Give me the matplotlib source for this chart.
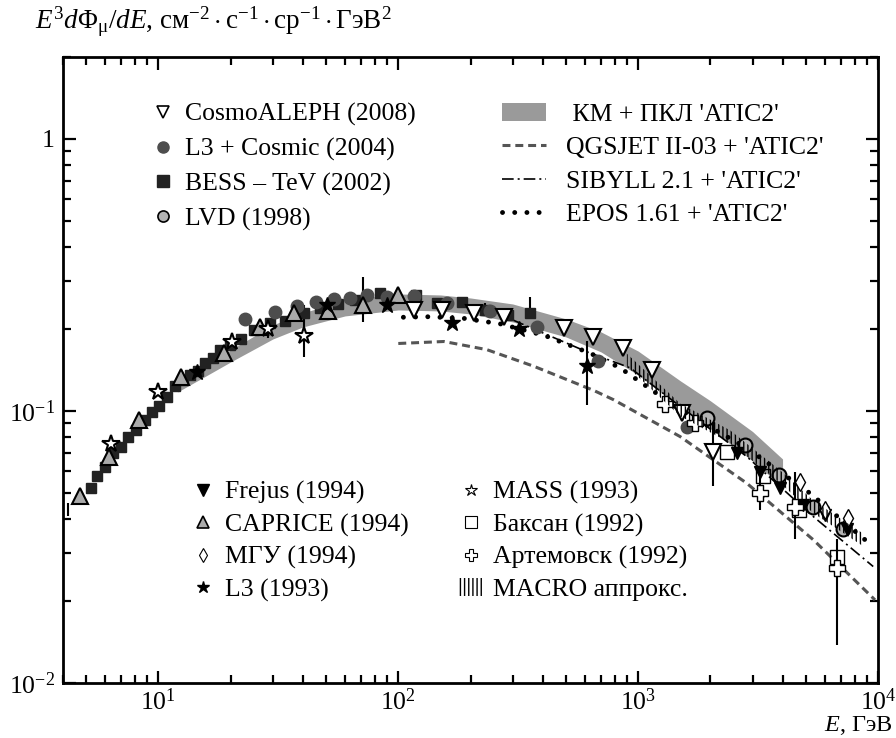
import numpy as np
import matplotlib
matplotlib.use('Agg')
import matplotlib.pyplot as plt
from matplotlib.lines import Line2D
from matplotlib.patches import Patch
from matplotlib.ticker import FixedLocator, FixedFormatter, LogLocator, NullFormatter

plt.rcParams['font.family'] = ['Liberation Serif', 'DejaVu Serif']
plt.rcParams['mathtext.fontset'] = 'custom'
plt.rcParams['mathtext.rm'] = 'Liberation Serif'
plt.rcParams['mathtext.it'] = 'Liberation Serif:italic'
plt.rcParams['mathtext.bf'] = 'Liberation Serif:bold'
plt.rcParams['hatch.linewidth'] = 1.0

# ---------------- data ----------------
bess_E = [5.21, 5.55, 6.01, 6.47, 6.95, 7.48, 8.09, 8.77, 9.41, 10.1, 10.9, 11.7, 12.7, 13.6,
          14.6, 15.7, 16.9, 18.1, 19.95, 22.1, 25.1, 29.1, 33.8, 40.3, 47, 56, 66, 84, 118,
          145, 184, 230, 288, 355]
bess_F = [0.0522, 0.0577, 0.0621, 0.0699, 0.0739, 0.0805, 0.0851, 0.0927, 0.0994, 0.104, 0.113,
          0.124, 0.130, 0.136, 0.140, 0.150, 0.157, 0.168, 0.175, 0.184, 0.199, 0.211, 0.215,
          0.229, 0.238, 0.248, 0.256, 0.271, 0.267, 0.250, 0.252, 0.235, 0.225, 0.229]

l3c_E = [23.0, 30.7, 37.9, 45.5, 53.7, 63.1, 74.1, 89.8, 116, 160, 242, 378, 678, 1596]
l3c_F = [0.217, 0.232, 0.243, 0.252, 0.257, 0.261, 0.267, 0.263, 0.265, 0.250, 0.234, 0.203,
         0.152, 0.0875]

lvd_E = [1933, 2790, 3880, 5375, 7170]
lvd_F = [0.094, 0.075, 0.0582, 0.0445, 0.0367]

aleph_E = [116, 152, 206, 275, 489, 648, 868, 1140, 1522, 2060]
aleph_F = [0.235, 0.235, 0.230, 0.222, 0.201, 0.187, 0.170, 0.142, 0.098, 0.0709]

caprice_E = [4.73, 6.21, 8.28, 12.4, 18.7, 26.4, 36.6, 50.8, 71.6, 100]
caprice_F = [0.0487, 0.0679, 0.0927, 0.133, 0.163, 0.204, 0.229, 0.234, 0.245, 0.267]

mass_E = [6.37, 10.0, 20.3, 28.5, 40.3]
mass_F = [0.0754, 0.117, 0.180, 0.200, 0.188]

l3_E = [14.5, 50.5, 89.8, 167, 320, 611]
l3_F = [0.139, 0.245, 0.245, 0.210, 0.200, 0.146]

frejus_E = [2575, 3220, 3905, 4890, 6010, 7410]
frejus_F = [0.0699, 0.0598, 0.052, 0.0451, 0.0415, 0.0367]

mgu_E = [4730, 6010, 7520]
mgu_F = [0.055, 0.0433, 0.0403]

baksan_E = [2345, 3310, 4700, 6730]
baksan_F = [0.0709, 0.0577, 0.0433, 0.0291]

artem_E = [1296, 1728, 3220, 4505, 6730]
artem_F = [0.106, 0.0901, 0.0501, 0.0443, 0.0264]

# error bars (energy, low, high)
err_E = [4.2, 28.5, 40.3, 71.6, 611, 2060, 3220, 4505, 6730, 355, 230]
err_lo = [0.041, 0.186, 0.158, 0.212, 0.105, 0.053, 0.0433, 0.0337, 0.0138, 0.229, 0.235]
err_hi = [0.046, 0.215, 0.246, 0.311, 0.181, 0.090, 0.0598, 0.0598, 0.0337, 0.262, 0.250]

# MACRO approximation band
macro_E = [897, 1496, 2415, 3905, 5360, 8660]
macro_F = [0.154, 0.101, 0.0805, 0.0574, 0.0445, 0.0336]
macro_hw = 1.055

# KM + PKL 'ATIC2' band
band_E = [12, 15, 20, 30, 40, 60, 100, 150, 200, 300, 500, 700, 1000, 1500, 2000, 3000, 4000]
band_hi = [0.1257, 0.1427, 0.1676, 0.2071, 0.2293, 0.2559, 0.2692, 0.2669, 0.2602, 0.2473,
           0.2179, 0.1952, 0.1660, 0.1290, 0.1090, 0.0840, 0.0666]
band_lo = [0.1174, 0.1311, 0.1514, 0.1839, 0.2036, 0.2235, 0.2351, 0.2331, 0.2273, 0.2124,
           0.1871, 0.1648, 0.1355, 0.1030, 0.0860, 0.0655, 0.0526]

qgs_E = [100, 155, 234, 367, 652, 789, 1496, 2840, 5375, 9716]
qgs_F = [0.177, 0.180, 0.168, 0.146, 0.119, 0.110, 0.0805, 0.0542, 0.0336, 0.0202]

sib_E = [300, 458, 611, 926, 1496, 2840, 5375, 9550]
sib_F = [0.216, 0.184, 0.165, 0.144, 0.104, 0.0679, 0.0409, 0.0268]

epos_E = [105, 132, 187, 266, 410, 631, 841, 1496, 2840, 5210, 9550]
epos_F = [0.221, 0.222, 0.219, 0.209, 0.189, 0.163, 0.144, 0.101, 0.073, 0.0498, 0.0317]

# ---------------- figure ----------------
W, H = 896, 738
fig = plt.figure(figsize=(W / 100, H / 100), dpi=100)
ax = fig.add_axes([63 / W, 1 - 683 / H, (878 - 63) / W, (683 - 57) / H])
ax.set_xscale('log')
ax.set_yscale('log')
ax.set_xlim(4.0, 1e4)
ax.set_ylim(0.01, 2.0)

c_band = '#9a9a9a'
qgs_ls = (0, (2.6, 1.6))
sib_ls = (0, (7, 2.4, 1.2, 2.4))
epos_ls = (0, (0.01, 2.5))

ax.fill_between(band_E, band_lo, band_hi, color=c_band, lw=0, zorder=1)

ax.plot(qgs_E, qgs_F, ls=qgs_ls, color='#555555', lw=2.2, zorder=2)
ax.plot(sib_E, sib_F, ls=sib_ls, color='black', lw=1.2, zorder=2)
ax.plot(epos_E, epos_F, ls=epos_ls, color='black', lw=3.5, dash_capstyle='round', zorder=2)

macro_lo = [f / macro_hw for f in macro_F]
macro_hi = [f * macro_hw for f in macro_F]
ax.fill_between(macro_E, macro_lo, macro_hi, facecolor='none', edgecolor='black',
                hatch='||||', lw=0, zorder=6)

ax.vlines(err_E, err_lo, err_hi, color='black', lw=1.5, zorder=3)

ms = dict(zorder=4, ls='none')
ax.plot(bess_E, bess_F, marker='s', ms=7, mfc='#222222', mec='#222222', **ms)
ax.plot(l3c_E, l3c_F, marker='o', ms=9, mfc='#4d4d4d', mec='#4d4d4d', **ms)
ax.plot(caprice_E, caprice_F, marker='^', ms=11, mfc='#aaaaaa', mec='black', mew=1.5, **ms)
ax.plot(mass_E, mass_F, marker='*', ms=13, mfc='white', mec='black', mew=1.5, **ms)
ax.plot(l3_E, l3_F, marker='*', ms=12, mfc='black', mec='black', **ms)
ax.plot(aleph_E, aleph_F, marker='v', ms=11, mfc='white', mec='black', mew=1.5, **ms)
ax.plot(lvd_E, lvd_F, marker='o', ms=10, mfc='#b3b3b3', mec='black', mew=1.5, **ms)
ax.plot(frejus_E, frejus_F, marker='v', ms=9, mfc='black', mec='black', **ms)
ax.plot(mgu_E, mgu_F, marker='d', ms=9, mfc='white', mec='black', mew=1, **ms)
ax.plot(baksan_E, baksan_F, marker='s', ms=10, mfc='none', mec='black', mew=1, **ms)
ax.plot(artem_E, artem_F, marker='P', ms=11, mfc='white', mec='black', mew=1, **ms)

# ticks
ax.xaxis.set_major_locator(FixedLocator([10, 100, 1000, 10000]))
ax.xaxis.set_major_formatter(FixedFormatter([r'$10^1$', r'$10^2$', r'$10^3$', r'$10^4$']))
ax.xaxis.set_minor_locator(LogLocator(base=10, subs=np.arange(2, 10), numticks=20))
ax.xaxis.set_minor_formatter(NullFormatter())
ax.yaxis.set_major_locator(FixedLocator([0.01, 0.1, 1]))
ax.yaxis.set_major_formatter(FixedFormatter([r'$10^{-2}$', r'$10^{-1}$', '1']))
ax.yaxis.set_minor_locator(LogLocator(base=10, subs=np.arange(2, 10), numticks=20))
ax.yaxis.set_minor_formatter(NullFormatter())
ax.tick_params(which='both', direction='in', top=True, right=True, width=1.6, labelsize=18.5)
ax.tick_params(which='major', length=9, pad=4)
ax.tick_params(which='minor', length=6)
ax.tick_params(axis='y', which='major', pad=6)
for s in ax.spines.values():
    s.set_linewidth(2)

fig.text(35 / W, 1 - 22 / H,
         r'$E^3d\Phi_{\mathrm{\mu}}/dE$, см$^{-2}\cdot$с$^{-1}\cdot$ср$^{-1}\cdot$ГэВ$^2$',
         fontsize=19.5, ha='left', va='center')
fig.text(893 / W, 1 - 737 / H, r'$E$, ГэВ', fontsize=17.5, ha='right', va='bottom')

# legends
fs = 18.5
h1 = [Line2D([], [], marker='v', ms=9, mfc='white', mec='black', mew=1.2, ls='none'),
      Line2D([], [], marker='o', ms=8, mfc='#4d4d4d', mec='#4d4d4d', ls='none'),
      Line2D([], [], marker='s', ms=8, mfc='#222222', mec='#222222', ls='none'),
      Line2D([], [], marker='o', ms=8, mfc='#b3b3b3', mec='black', mew=1.2, ls='none')]
l1 = ['CosmoALEPH (2008)', 'L3 + Cosmic (2004)', 'BESS – TeV (2002)', 'LVD (1998)']
leg1 = ax.legend(h1, l1, loc='upper left', bbox_to_anchor=(150 / W, 1 - 103 / H),
                 bbox_transform=fig.transFigure, frameon=False, fontsize=fs,
                 handlelength=1.0, handletextpad=0.35, labelspacing=0.44, borderpad=0,
                 borderaxespad=0)
ax.add_artist(leg1)

h2 = [Patch(facecolor=c_band, lw=0),
      Line2D([], [], ls=qgs_ls, color='#555555', lw=2.2),
      Line2D([], [], ls=sib_ls, color='black', lw=1.2),
      Line2D([], [], ls=epos_ls, color='black', lw=3.5, dash_capstyle='round')]
l2 = [" КМ + ПКЛ 'ATIC2'", "QGSJET II-03 + 'ATIC2'", "SIBYLL 2.1 + 'ATIC2'", "EPOS 1.61 + 'ATIC2'"]
leg2 = ax.legend(h2, l2, loc='upper left', bbox_to_anchor=(502 / W, 1 - 103 / H),
                 bbox_transform=fig.transFigure, frameon=False, fontsize=fs,
                 handlelength=1.71, handletextpad=0.8, labelspacing=0.40, borderpad=0,
                 borderaxespad=0)
ax.add_artist(leg2)

h3 = [Line2D([], [], marker='v', ms=8, mfc='black', mec='black', ls='none'),
      Line2D([], [], marker='^', ms=8, mfc='#aaaaaa', mec='black', mew=1.2, ls='none'),
      Line2D([], [], marker='d', ms=7, mfc='white', mec='black', mew=0.8, ls='none'),
      Line2D([], [], marker='*', ms=9, mfc='black', mec='black', ls='none'),
      Line2D([], [], marker='*', ms=9, mfc='white', mec='black', mew=0.8, ls='none'),
      Line2D([], [], marker='s', ms=8, mfc='white', mec='black', mew=0.8, ls='none'),
      Line2D([], [], marker='P', ms=9, mfc='white', mec='black', mew=0.8, ls='none'),
      Patch(facecolor='none', edgecolor='black', hatch='||||', lw=0)]
l3 = ['Frejus (1994)', 'CAPRICE (1994)', 'МГУ (1994)', 'L3 (1993)',
      'MASS (1993)', 'Баксан (1992)', 'Артемовск (1992)', 'MACRO аппрокс.']
leg3 = ax.legend(h3, l3, loc='upper left', bbox_to_anchor=(190 / W, 1 - 481 / H),
                 bbox_transform=fig.transFigure, frameon=False, fontsize=fs, ncol=2,
                 handlelength=1.0, handletextpad=0.35, labelspacing=0.35, borderpad=0,
                 borderaxespad=0, columnspacing=1.95)

fig.savefig('out.png', dpi=100)
